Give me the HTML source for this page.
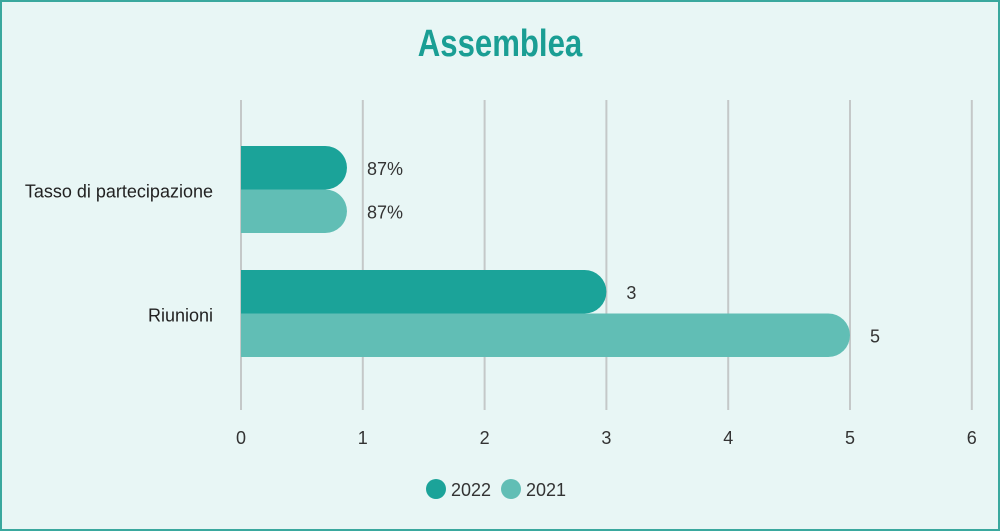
<!DOCTYPE html>
<html><head><meta charset="utf-8"><style>
body{margin:0;background:#fff}
#wrap{position:relative;width:1000px;height:531px;box-sizing:border-box;border:2px solid #3aa89e;background:#e8f6f5;font-family:"Liberation Sans",sans-serif}
svg text{font-family:"Liberation Sans",sans-serif}
</style></head><body>
<div id="wrap">
<svg id="chart" width="996" height="527" style="position:absolute;left:0;top:0">
<text x="498" y="54" text-anchor="middle" font-size="38" font-weight="bold" fill="#1a9e94" transform="translate(498,0) scale(0.82,1) translate(-498,0)">Assemblea</text>
</svg>
</div>
<script>
const categories=["Tasso di partecipazione","Riunioni"];
const series2022=[0.87,3];
const series2021=[0.87,5];
const labels2022=["87%","3"];
const labels2021=["87%","5"];
const ticks=[0,1,2,3,4,5,6];
const seriesNames=["2022","2021"];
const NS="http://www.w3.org/2000/svg";
const svg=document.getElementById('chart');
const x0=239,unit=121.8,yTop=98,yBottom=408;
const xs=v=>x0+v*unit;
const catY=[144,268],bh=43.5;
const colors=["#1ba399","#61beb5"];
function mk(t,a){const e=document.createElementNS(NS,t);for(const k in a)e.setAttribute(k,a[k]);svg.appendChild(e);return e;}
ticks.forEach(t=>{
 const l=mk('line',{x1:xs(t),x2:xs(t),y1:yTop,y2:yBottom,stroke:'#c4c8c8','stroke-width':2});
 
 
 const tx=mk('text',{x:xs(t),y:442,'text-anchor':'middle','font-size':18,fill:'#333'});
 tx.textContent=t;
 
 
});
categories.forEach((c,i)=>{
 const lab=mk('text',{x:211,y:catY[i]+bh+8,'text-anchor':'end','font-size':18,fill:'#222'});
 lab.textContent=c;
 
 
 [series2022,series2021].forEach((s,j)=>{
  const y=catY[i]+j*bh,xe=xs(s[i]),r=bh/2,xb=xs(0);
  const p=mk('path',{d:`M${xb},${y}H${xe-r}A${r},${r} 0 0 1 ${xe-r},${y+bh}H${xb}Z`,fill:colors[j]});
  
  
  const v=mk('text',{x:xe+20,y:y+bh/2+7,'font-size':18,fill:'#333'});
  v.textContent=(j?labels2021:labels2022)[i];
  
  
 });
});
seriesNames.forEach((n,j)=>{
 const cx=434+j*75;
 const c=mk('circle',{cx:cx,cy:487,r:10,fill:colors[j]});
 
 
 const t=mk('text',{x:cx+15,y:494,'font-size':18,fill:'#333'});
 t.textContent=n;
 
 
});
</script>
</body></html>
